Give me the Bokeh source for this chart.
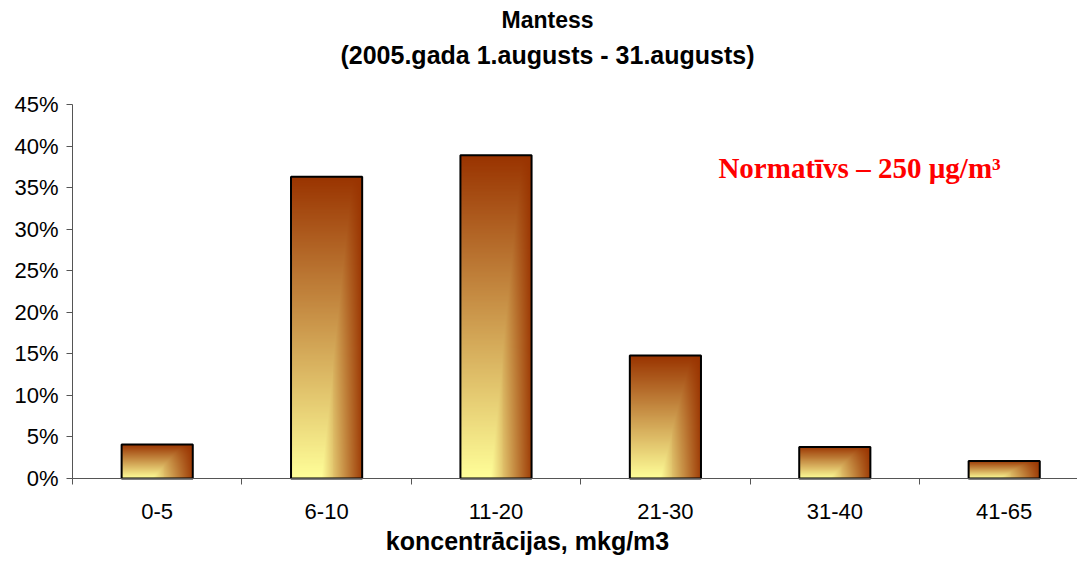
import numpy as np
from bokeh.plotting import figure
from bokeh.models import Range1d, FixedTicker, PrintfTickFormatter, Label, ColumnDataSource
from bokeh.embed import file_html
from bokeh.resources import INLINE

# ---- data ----
categories = ["0-5", "6-10", "11-20", "21-30", "31-40", "41-65"]
shares = [4.1, 36.3, 38.9, 14.8, 3.8, 2.1]          # percent of measurements
y_ticks = [0, 5, 10, 15, 20, 25, 30, 35, 40, 45]
title_main = "Mantess"
title_sub = "(2005.gada 1.augusts - 31.augusts)"
x_title = "koncentrācijas, mkg/m3"
note_text = "Normatīvs – 250 µg/m³"

# ---- styling / layout ----
SANS = "Liberation Sans"
SERIF = "Liberation Serif"
AXIS_COLOR = "#555555"
BAR_W = 0.42
TOP_RGB = np.array([153, 51, 0], dtype=float)
BOT_RGB = np.array([255, 255, 153], dtype=float)

W, H = 1077, 557
X0_PX, Y0_PX = 72, 478          # pixel position of the data origin
PX_PER_CAT = 169.4
PX_PER_PCT = 374 / 45

x_start = -X0_PX / PX_PER_CAT
x_end = (W - X0_PX) / PX_PER_CAT
y_end = Y0_PX / PX_PER_PCT
y_start = (Y0_PX - H) / PX_PER_PCT

p = figure(width=W, height=H, output_backend="svg", toolbar_location=None,
           x_range=Range1d(x_start, x_end), y_range=Range1d(y_start, y_end),
           min_border_left=0, min_border_right=0, min_border_top=0, min_border_bottom=0)
p.outline_line_color = None
p.xgrid.visible = False
p.ygrid.visible = False
p.background_fill_color = "white"
p.border_fill_color = "white"

xs = [i + 0.5 for i in range(len(categories))]


def bar_gradient(nx, ny):
    u = (np.arange(nx) + 0.5) / nx
    v = (np.arange(ny) + 0.5) / ny
    U, V = np.meshgrid(u, v)
    b = 0.42 + 0.45 * V
    h = np.clip((U - b) / (1 - b), 0, 1)
    t = V + (1 - V) * h * 0.95
    rgb = BOT_RGB + (TOP_RGB - BOT_RGB) * t[..., None]
    img = np.empty((ny, nx), dtype=np.uint32)
    view = img.view(dtype=np.uint8).reshape((ny, nx, 4))
    view[..., 0:3] = np.round(rgb).astype(np.uint8)
    view[..., 3] = 255
    return img


imgs = [bar_gradient(72, 256) for _ in categories]
img_src = ColumnDataSource(dict(
    image=imgs,
    x=[x - BAR_W / 2 for x in xs],
    y=[0] * len(xs),
    dw=[BAR_W] * len(xs),
    dh=shares,
))
p.image_rgba(image="image", x="x", y="y", dw="dw", dh="dh", source=img_src)

bar_src = ColumnDataSource(dict(x=xs, top=shares, cat=categories))
p.vbar(x="x", top="top", width=BAR_W, source=bar_src,
       fill_color=None, line_color="black", line_width=2)

# ---- x axis (drawn inside the frame at y = 0) ----
xa = p.xaxis[0]
xa.fixed_location = 0
xa.bounds = (0, x_end)
xa.ticker = FixedTicker(ticks=xs, minor_ticks=list(range(0, len(categories) + 1)))
xa.major_label_overrides = {x: c for x, c in zip(xs, categories)}
xa.major_tick_out = 0
xa.major_tick_in = 0
xa.minor_tick_out = 6
xa.minor_tick_in = 0
xa.minor_tick_line_color = AXIS_COLOR
xa.axis_line_color = AXIS_COLOR
xa.major_label_standoff = 19
xa.major_label_text_font = SANS
xa.major_label_text_font_size = "22px"
xa.major_label_text_color = "black"

# ---- y axis (drawn inside the frame at x = 0) ----
ya = p.yaxis[0]
ya.fixed_location = 0
ya.bounds = (0, 45)
ya.ticker = FixedTicker(ticks=y_ticks)
ya.formatter = PrintfTickFormatter(format="%d%%")
ya.major_tick_out = 6
ya.major_tick_in = 0
ya.minor_tick_out = 0
ya.minor_tick_in = 0
ya.major_tick_line_color = AXIS_COLOR
ya.axis_line_color = AXIS_COLOR
ya.major_label_standoff = 8
ya.major_label_text_font = SANS
ya.major_label_text_font_size = "22px"
ya.major_label_text_color = "black"

# ---- texts ----
p.add_layout(Label(x=2.804, y=55.2, text=title_main, text_align="center", text_baseline="middle",
                   text_font=SANS, text_font_size="23px", text_font_style="bold", text_color="black"))
p.add_layout(Label(x=2.804, y=51.0, text=title_sub, text_align="center", text_baseline="middle",
                   text_font=SANS, text_font_size="25px", text_font_style="bold", text_color="black"))
p.add_layout(Label(x=2.686, y=-7.55, text=x_title, text_align="center", text_baseline="middle",
                   text_font=SANS, text_font_size="25px", text_font_style="bold", text_color="black"))
p.add_layout(Label(x=3.813, y=37.4, text=note_text, text_align="left", text_baseline="alphabetic",
                   text_font=SERIF, text_font_size="29px", text_font_style="bold", text_color="#FF0000"))

open("out.html", "w").write(file_html(p, INLINE))
